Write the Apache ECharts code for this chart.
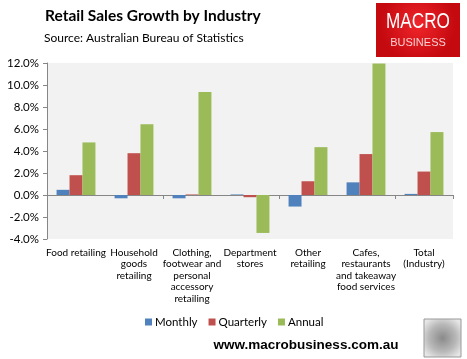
<!DOCTYPE html>
<html><head><meta charset="utf-8">
<script src="https://cdn.jsdelivr.net/npm/echarts@6/dist/echarts.min.js"></script>
<style>html,body{margin:0;padding:0;background:#fff}#c{width:467px;height:359px}</style>
</head><body><div id="c"></div>
<script>
const categories = ["Food retailing","Household\ngoods\nretailing","Clothing,\nfootwear and\npersonal\naccessory\nretailing","Department\nstores","Other\nretailing","Cafes,\nrestaurants\nand takeaway\nfood services","Total\n(Industry)"];
const monthly = [0.47, -0.3, -0.3, 0.05, -1.05, 1.15, 0.1];
const quarterly = [1.8, 3.8, 0.05, -0.2, 1.25, 3.72, 2.13];
const annual = [4.78, 6.43, 9.36, -3.45, 4.35, 11.95, 5.72];
const yTicks = [-4, -2, 0, 2, 4, 6, 8, 10, 12];

const chart = echarts.init(document.getElementById('c'), null, {renderer:'canvas'});
const font = 'Lato, "Open Sans", sans-serif';
chart.setOption({
  animation: false,
  textStyle: {fontFamily: font},
  title: [
    {text: 'Retail Sales Growth by Industry', left: 40, top: 3, textStyle:{fontSize:15.5, fontWeight:'bold', color:'#000', fontFamily:font}},
    {text: 'Source: Australian Bureau of Statistics', left: 39, top: 27, textStyle:{fontSize:12, fontWeight:'normal', color:'#000', fontFamily:font}}
  ],
  legend: {
    data: ['Monthly','Quarterly','Annual'], top: 311, left: 140,
    itemWidth: 7, itemHeight: 7, itemGap: 11, icon: 'rect',
    textStyle: {fontSize: 11.5, color:'#000', fontFamily:font, padding:[0,0,0,-2]}
  },
  grid: {left: 47, right: 14, top: 63, bottom: 120, show: true, backgroundColor: '#f2f2f2', borderWidth: 0},
  xAxis: [
    {type:'category', data: categories, position:'bottom',
     axisLine:{show:false, onZero:false}, axisTick:{show:false},
     axisLabel:{interval:0, fontSize:10, color:'#000', lineHeight:11.5, margin:8, fontFamily:font}},
    {type:'category', data: categories, position:'top',
     axisLine:{show:true, onZero:true, lineStyle:{color:'#868686', width:1}},
     axisTick:{show:true, inside:true, length:4, lineStyle:{color:'#868686'}},
     axisLabel:{show:false}}
  ],
  yAxis: {
    type:'value', min:-4, max:12, interval:2,
    axisLine:{show:true, lineStyle:{color:'#868686'}},
    axisTick:{show:true, length:4, lineStyle:{color:'#868686'}},
    splitLine:{show:false},
    axisLabel:{fontSize:11.5, color:'#000', margin:8, fontFamily:font,
      formatter: v => v.toFixed(1) + '%'}
  },
  series: [
    {name:'Monthly', type:'bar', data: monthly, barGap:'0%', barCategoryGap:'33%', itemStyle:{color:'#4f81bd'}},
    {name:'Quarterly', type:'bar', data: quarterly, itemStyle:{color:'#c0504d'}},
    {name:'Annual', type:'bar', data: annual, itemStyle:{color:'#9bbb59'}}
  ],
  graphic: [
    {type:'rect', shape:{x:376, y:3, width:84, height:54},
     style:{fill:{type:'radial', x:0.5, y:0.4, r:0.7, colorStops:[{offset:0,color:'#f0262b'},{offset:1,color:'#c4090f'}]}}},
    {type:'text', x:418, y:22, scaleX:0.78, style:{text:'MACRO', fill:'#fff', font:'22px "Liberation Sans", sans-serif', textAlign:'center', textVerticalAlign:'middle'}},
    {type:'text', x:418, y:43, style:{text:'BUSINESS', fill:'#f8d0d0', font:'11px "Liberation Sans", sans-serif', textAlign:'center', textVerticalAlign:'middle'}},
    {type:'text', x:306, y:345, style:{text:'www.macrobusiness.com.au', fill:'#000', font:'bold 13.5px "Liberation Sans", sans-serif', textAlign:'center', textVerticalAlign:'middle'}},
    {type:'rect', shape:{x:424, y:319, width:37, height:38},
     style:{fill:{type:'radial', x:0.5, y:0.5, r:0.6, colorStops:[{offset:0,color:'#8a8a8a'},{offset:0.6,color:'#b8b8b8'},{offset:1,color:'#e6e6e6'}]}, stroke:'#999', lineWidth:1}}
  ]
});
</script></body></html>
